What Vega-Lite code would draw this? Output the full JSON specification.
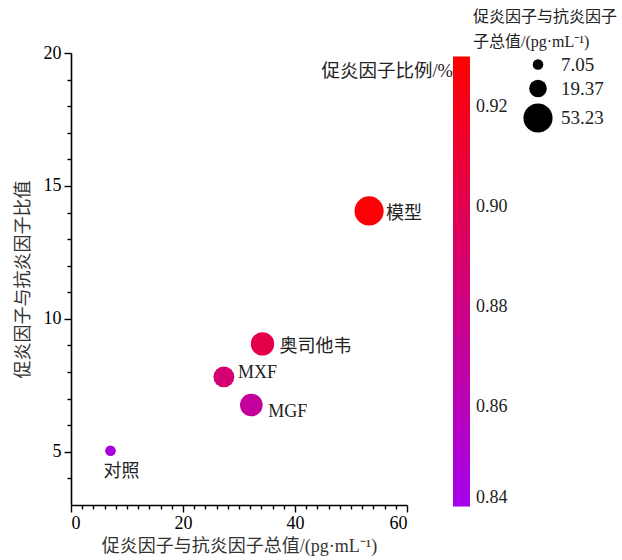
{
  "$schema": "https://vega.github.io/schema/vega-lite/v6.json",
  "width": 336,
  "height": 452,
  "autosize": "none",
  "padding": {"left": 71, "top": 53, "right": 215, "bottom": 55},
  "background": "white",
  "config": {
    "view": {"stroke": null},
    "font": "Liberation Serif, Noto Sans CJK SC",
    "legend": {"padding": 0},
    "axis": {
      "grid": false,
      "domainColor": "black",
      "domainWidth": 1.6,
      "tickColor": "black",
      "tickWidth": 1.4,
      "labelColor": "black",
      "labelFont": "Liberation Serif, Noto Sans CJK SC",
      "labelFontSize": 18,
      "titleFont": "Liberation Serif, Noto Sans CJK SC",
      "titleFontSize": 18,
      "titleFontWeight": "normal",
      "titleColor": "#333"
    }
  },
  "data": {
    "values": [
      {"group": "对照", "total": 7.05, "ratio": 5.04, "pct": 0.846},
      {"group": "MXF", "total": 27.3, "ratio": 7.82, "pct": 0.887},
      {"group": "MGF", "total": 32.2, "ratio": 6.76, "pct": 0.871},
      {"group": "奥司他韦", "total": 34.2, "ratio": 9.06, "pct": 0.902},
      {"group": "模型", "total": 53.23, "ratio": 14.06, "pct": 0.928}
    ]
  },
  "encoding": {
    "x": {
      "field": "total", "type": "quantitative",
      "scale": {"domain": [0, 60], "nice": false},
      "axis": {
        "title": "促炎因子与抗炎因子总值/(pg·mL⁻¹)",
        "values": [0,2,4,6,8,10,12,14,16,18,20,22,24,26,28,30,32,34,36,38,40,42,44,46,48,50,52,54,56,58,60],
        "labelExpr": "datum.value % 20 === 0 ? datum.label : ''",
        "tickSize": {"condition": {"test": "datum.value % 20 === 0", "value": 7}, "value": 4},
        "labelPadding": 2,
        "titlePadding": 5
      }
    },
    "y": {
      "field": "ratio", "type": "quantitative",
      "scale": {"domain": [3, 20], "nice": false, "zero": false},
      "axis": {
        "title": "促炎因子与抗炎因子比值",
        "values": [4,5,6,7,8,9,10,11,12,13,14,15,16,17,18,19,20],
        "labelExpr": "datum.value % 5 === 0 ? datum.label : ''",
        "tickSize": {"condition": {"test": "datum.value % 5 === 0", "value": 7}, "value": 4},
        "labelPadding": 3,
        "titlePadding": 11
      }
    }
  },
  "layer": [
    {
      "mark": {"type": "circle", "opacity": 1},
      "encoding": {
        "size": {
          "field": "total", "type": "quantitative",
          "scale": {"domain": [0, 53.23], "range": [0, 850], "zero": true},
          "legend": {
            "orient": "none",
            "legendX": 402,
            "legendY": -44,
            "title": ["促炎因子与抗炎因子", "子总值/(pg·mL⁻¹)"],
            "titleFontSize": 16,
            "titleLineHeight": 25,
            "titleFontWeight": "normal",
            "titleColor": "#222",
            "titleFont": "Liberation Serif, Noto Sans CJK SC",
            "titlePadding": 5,
            "values": [7.05, 19.37, 53.23],
            "format": ".2f",
            "symbolFillColor": "black",
            "symbolStrokeWidth": 0,
            "symbolType": "circle",
            "symbolOffset": 50,
            "labelFontSize": 19,
            "labelFont": "Liberation Serif",
            "labelColor": "#222",
            "labelOffset": 8,
            "rowPadding": 4
          }
        },
        "color": {
          "field": "pct", "type": "quantitative",
          "scale": {"domain": [0.84, 0.93], "range": ["#a400ec", "#ff0000"], "interpolate": "rgb"},
          "legend": {
            "orient": "none",
            "legendX": 250,
            "legendY": 9,
            "direction": "vertical",
            "gradientLength": 450,
            "gradientThickness": 17,
            "gradientStrokeWidth": 0,
            "title": "促炎因子比例/%\u00a0\u00a0",
            "titleOrient": "top",
            "titleAnchor": "start",
            "titleAlign": "right",
            "titleBaseline": "top",
            "titleFontSize": 18.5,
            "titleFontWeight": "normal",
            "titleColor": "#222",
            "titleFont": "Liberation Serif, Noto Sans CJK SC",
            "titlePadding": -24,
            "values": [0.84, 0.86, 0.88, 0.90, 0.92],
            "format": ".2f",
            "labelFontSize": 18,
            "labelFont": "Liberation Serif",
            "labelColor": "#222",
            "labelOffset": 6,
            "labelBaseline": "middle",
            "labelOverlap": false
          }
        }
      }
    },
    {
      "transform": [{"filter": "datum.group === '模型' || datum.group === '奥司他韦'"}],
      "mark": {"type": "text", "align": "left", "baseline": "middle", "dx": 17, "dy": 3, "fontSize": 18, "color": "#222", "font": "Liberation Serif, Noto Sans CJK SC"},
      "encoding": {"text": {"field": "group"}}
    },
    {
      "transform": [{"filter": "datum.group === 'MXF'"}],
      "mark": {"type": "text", "align": "left", "baseline": "middle", "dx": 14, "dy": -4, "fontSize": 18, "color": "#222", "font": "Liberation Serif, Noto Sans CJK SC"},
      "encoding": {"text": {"field": "group"}}
    },
    {
      "transform": [{"filter": "datum.group === 'MGF'"}],
      "mark": {"type": "text", "align": "left", "baseline": "middle", "dx": 17, "dy": 7, "fontSize": 18, "color": "#222", "font": "Liberation Serif, Noto Sans CJK SC"},
      "encoding": {"text": {"field": "group"}}
    },
    {
      "transform": [{"filter": "datum.group === '对照'"}],
      "mark": {"type": "text", "align": "center", "baseline": "middle", "dx": 11, "dy": 21, "fontSize": 18, "color": "#222", "font": "Liberation Serif, Noto Sans CJK SC"},
      "encoding": {"text": {"field": "group"}}
    }
  ]
}
